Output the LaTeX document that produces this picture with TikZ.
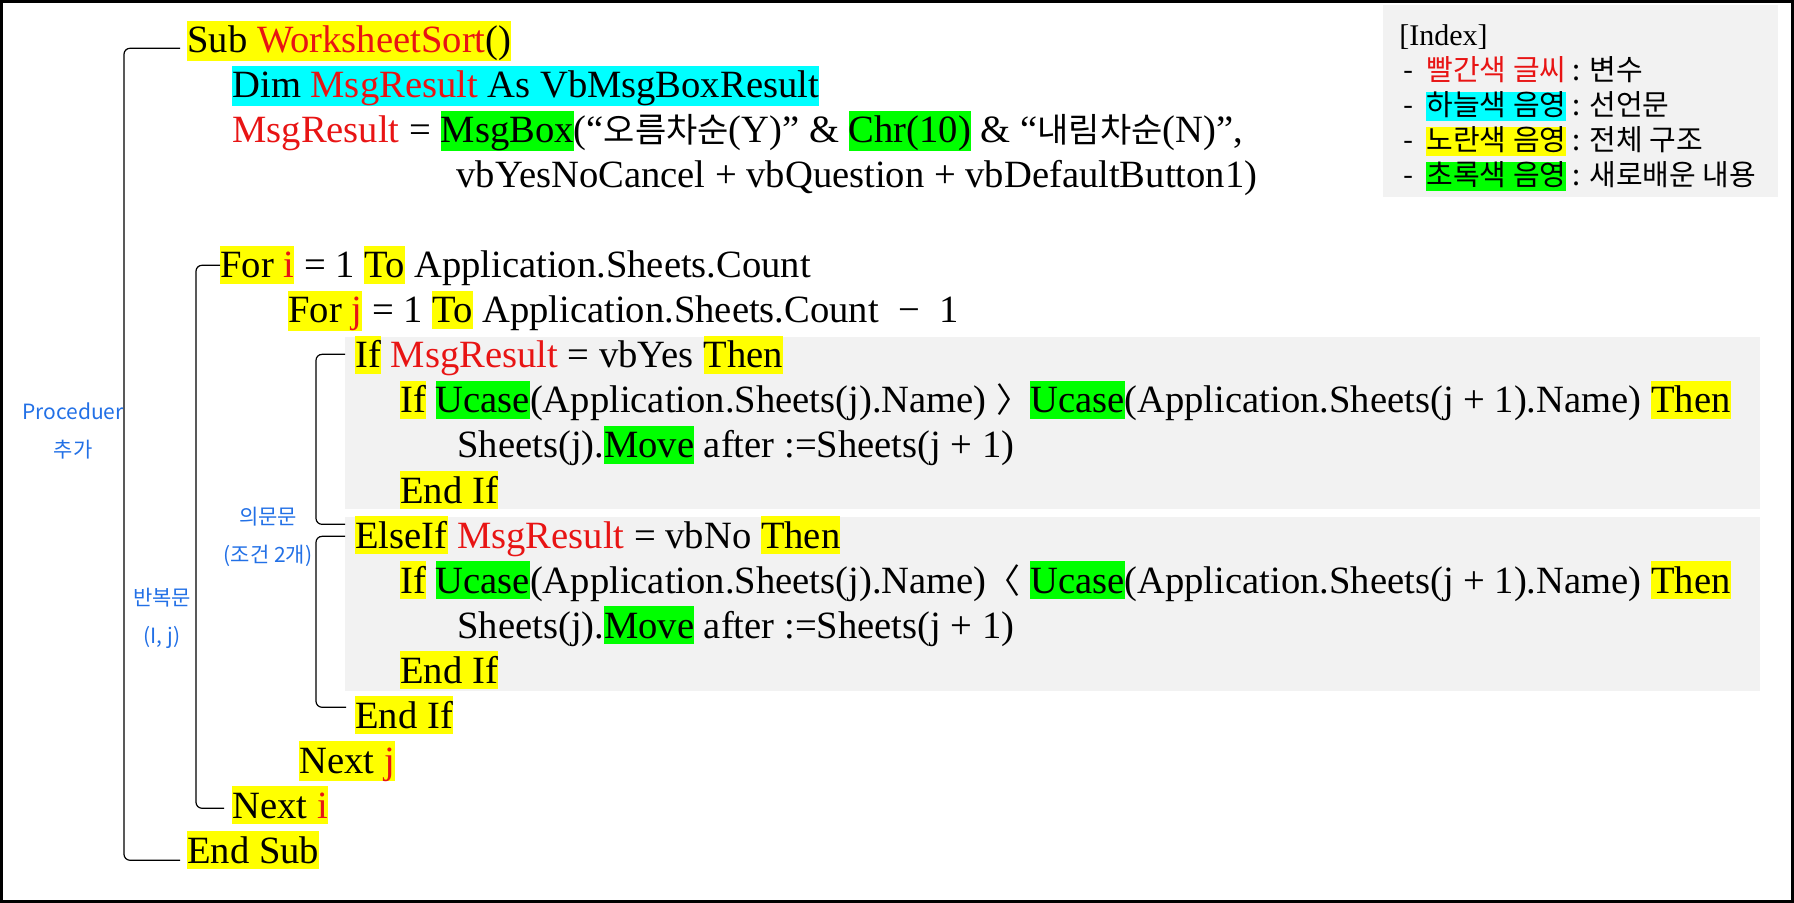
\documentclass[tikz,border=0pt]{standalone}
\usepackage{fontspec}
\setmainfont{Liberation Serif}
\newfontfamily\krfont{Noto Sans CJK KR}
\usepackage{xcolor}
\usetikzlibrary{positioning, calc}
\definecolor{varred}{HTML}{E81414}
\definecolor{declcyan}{HTML}{00FFFF}
\definecolor{structyellow}{HTML}{FFFF00}
\definecolor{newgreen}{HTML}{00FF00}
\definecolor{panelgray}{HTML}{F2F2F2}
\definecolor{noteblue}{HTML}{2270E6}

\newcommand{\hilite}[2]{{\setlength{\fboxsep}{0pt}\colorbox{#1}{\rule[-0.16em]{0pt}{0.98em}#2}}}
\newcommand{\yel}[1]{\hilite{structyellow}{#1}}
\newcommand{\cyn}[1]{\hilite{declcyan}{#1}}
\newcommand{\grn}[1]{\hilite{newgreen}{#1}}
\newcommand{\vname}[1]{\textcolor{varred}{#1}}
\newcommand{\kc}[1]{{\krfont\fontsize{17}{22.5}\selectfont #1}}

\begin{document}
\begin{tikzpicture}[x=0.5pt, y=-0.5pt,
  code/.style={font=\fontsize{19.3}{22.5}\selectfont, anchor=base west, inner sep=0pt},
  legend/.style={font=\krfont\fontsize{14.5}{17.5}\selectfont, anchor=base west, inner sep=0pt},
  note/.style={font=\krfont\fontsize{10.5}{19}\selectfont, text=noteblue, align=center},
  bracket/.style={line width=0.6pt, rounded corners=3pt}]

  \useasboundingbox (0,0) rectangle (1794,903);

  % Frame
  \draw[line width=1.5pt] (1.5,1.5) rectangle (1792.5,901.5);

  % Shaded panels
  \fill[panelgray] (345,337) rectangle (1760,509);
  \fill[panelgray] (345,517) rectangle (1760,691);
  \fill[panelgray] (1383,5) rectangle (1778,197);

  % Index
  \node[legend, font=\fontsize{15}{17.5}\selectfont] (idxtitle) at (1399,46) {[Index]};
  \node[legend] (idxred) at (1403,81) {- ~\vname{빨간색 글씨} : 변수};
  \node[legend] (idxcyan) at (1403,116) {- ~\cyn{하늘색 음영} : 선언문};
  \node[legend] (idxyellow) at (1403,151) {- ~\yel{노란색 음영} : 전체 구조};
  \node[legend] (idxgreen) at (1403,186) {- ~\grn{초록색 음영} : 새로배운 내용};

  % Code lines
  \node[code] (sub) at (187,53) {\yel{Sub \vname{WorksheetSort}()}};
  \node[code] (dim) at (232,98) {\cyn{Dim \vname{MsgResult} As VbMsgBoxResult}};
  \node[code] (msgbox) at (232,143) {\vname{MsgResult} = \grn{MsgBox}(“\kc{오름차순}(Y)” \& \grn{Chr(10)} \& “\kc{내림차순}(N)”,};
  \node[code] (msgopts) at (456,188) {vbYesNoCancel + vbQuestion + vbDefaultButton1)};
  \node[code] (fori) at (220,278) {\yel{For \vname{i}} = 1 \yel{To} Application.Sheets.Count};
  \node[code] (forj) at (288,323) {\yel{For \vname{j}} = 1 \yel{To} Application.Sheets.Count ~−~ 1};
  \node[code] (ifyes) at (355,368) {\yel{If} \vname{MsgResult} = vbYes \yel{Then}};
  \node[code] (ifasc) at (400,413) {\yel{If} \grn{Ucase}(Application.Sheets(j).Name) \kc{〉}\grn{Ucase}(Application.Sheets(j + 1).Name) \yel{Then}};
  \node[code] (moveasc) at (457,458) {Sheets(j).\grn{Move} after :=Sheets(j + 1)};
  \node[code] (endasc) at (400,503) {\yel{End If}};
  \node[code] (elseif) at (355,548) {\yel{ElseIf} \vname{MsgResult} = vbNo \yel{Then}};
  \node[code] (ifdesc) at (400,593) {\yel{If} \grn{Ucase}(Application.Sheets(j).Name)\kc{〈} \grn{Ucase}(Application.Sheets(j + 1).Name) \yel{Then}};
  \node[code] (movedesc) at (457,638) {Sheets(j).\grn{Move} after :=Sheets(j + 1)};
  \node[code] (enddesc) at (400,683) {\yel{End If}};
  \node[code] (endif) at (355,728) {\yel{End If}};
  \node[code] (nextj) at (299,773) {\yel{Next \vname{j}}};
  \node[code] (nexti) at (232,818) {\yel{Next \vname{i}}};
  \node[code] (endsub) at (187,863) {\yel{End Sub}};

  % Brackets
  \draw[bracket] ([shift={(-7,7)}]sub.west) -- ++(-56,0) |- ([shift={(-7,10)}]endsub.west);
  \draw[bracket] ([shift={(0,-1)}]fori.west) -- ++(-24,0) |- ([shift={(-8,3)}]nexti.west);
  \draw[bracket] ([shift={(-10,-2)}]ifyes.west) -- ++(-29,0) |- ([shift={(-10,-12)}]elseif.west);
  \draw[bracket] ([shift={(-10,0)}]elseif.west) -- ++(-29,0) |- ([shift={(-9,-8)}]endif.west);

  % Notes
  \node[note] (procnote) at (73,431) {Proceduer\\추가};
  \node[note] (ifnote) at (268,537) {의문문\\(조건 2개)};
  \node[note] (loopnote) at (162,618) {반복문\\(I, j)};
\end{tikzpicture}
\end{document}
